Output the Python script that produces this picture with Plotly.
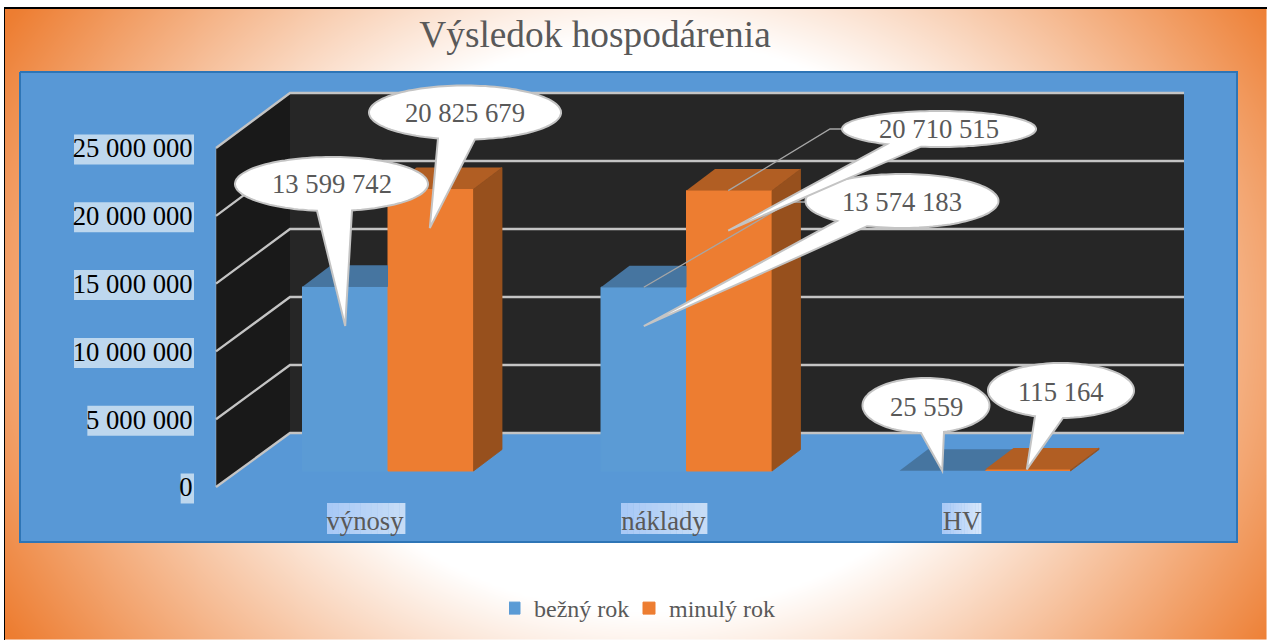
import math
import numpy as np
import plotly.graph_objects as go

# ---------- data ----------
categories = ["výnosy", "náklady", "HV"]
bezny_rok = [13599742, 13574183, 25559]
minuly_rok = [20825679, 20710515, 115164]
series_names = ["bežný rok", "minulý rok"]
tick_values = [0, 5000000, 10000000, 15000000, 20000000, 25000000]
tick_labels = ["0", "5 000 000", "10 000 000", "15 000 000", "20 000 000", "25 000 000"]
title_text = "Výsledok hospodárenia"

# ---------- style ----------
W, H = 1267, 640
FONT = "Liberation Serif"
BLUE, ORANGE = "#5B9BD5", "#ED7D31"
BLUE_TOP, ORANGE_TOP, ORANGE_SIDE = "#4675A0", "#B15E23", "#97501D"
PANEL, PANEL_EDGE = "#5898D6", "#2E75B6"
GRID = "#C4C4C4"
TXT = "#595959"
FS = 26.67

# scale of the bar plane (pixels)
PX_PER_CAT = 298.5
C0_PX = 388.0
PX_PER_V = 13.54e-6
Y0_PX = 471.0
BAR_W = 85.5 / PX_PER_CAT
DEPTH_C = 28.5 / PX_PER_CAT
DEPTH_V = 21.5 / PX_PER_V
# left front wall edge scale
Y3_0 = 487.0
Y3_K = 13.56e-6
# back wall scale
YB_0 = 433.0
YB_K = 13.6e-6
WALL_L, WALL_B, WALL_R = 216, 290, 1184


def bx(cat, s):
    """pixel centre of bar s in category cat"""
    return C0_PX + PX_PER_CAT * (cat + (s - 0.5) * BAR_W) - s


def by(v):
    return Y0_PX - PX_PER_V * v


fig = go.Figure()


def deco(xs, ys, fill=None, line=None, width=0):
    fig.add_trace(go.Scatter(
        x=xs, y=ys, mode="lines", fill="toself" if fill else None,
        fillcolor=fill, line=dict(color=line or "rgba(0,0,0,0)", width=width),
        hoverinfo="skip", showlegend=False, xaxis="x", yaxis="y"))


def rect(x0, y0, x1, y1, fill):
    deco([x0, x1, x1, x0, x0], [y0, y0, y1, y1, y0], fill=fill)


# ---------- background gradient ----------
gx = np.linspace(5, W, 256)
gy = np.linspace(9, H, 128)
u = (gx - 646) / 641
v = (gy - 325) / 316
z = np.clip(np.sqrt((1.664 * u[None, :]) ** 2 + (1.024 * v[:, None]) ** 2) - 0.93, 0, 1)
fig.add_trace(go.Heatmap(x=gx, y=gy, z=z, zmin=0, zmax=1, zsmooth="best", showscale=False,
                         colorscale=[[0, "#FFFFFF"], [1, ORANGE]], hoverinfo="skip",
                         xaxis="x", yaxis="y"))
rect(0, 0, W, 7, "#FFFFFF")
rect(0, 0, 4, H, "#FFFFFF")
rect(4, 7, W, 9, "#000000")
rect(4, 7, 5, H, "#000000")

# ---------- panel ----------
deco([20, 1237, 1237, 20, 20], [72, 72, 542, 542, 72], fill=PANEL, line=PANEL_EDGE, width=2)

# ---------- walls and gridlines ----------
yf = lambda val: Y3_0 - Y3_K * val
yb = lambda val: YB_0 - YB_K * val
top = tick_values[-1]
deco([WALL_L, WALL_B, WALL_B, WALL_L, WALL_L], [yf(0), yb(0), yb(top), yf(top), yf(0)], fill="#191919")
deco([WALL_B, WALL_R, WALL_R, WALL_B, WALL_B], [yb(0), yb(0), yb(top), yb(top), yb(0)], fill="#262626")
for val in tick_values:
    deco([WALL_L, WALL_B, WALL_R], [yf(val), yb(val), yb(val)], line=GRID, width=2.3)

# ---------- highlight behind the axis labels ----------
for lab, val in zip(tick_labels, tick_values):
    w = sum(6.67 if ch == " " else 13.33 for ch in lab)
    rect(194 - w, yf(val) - 13.5, 194, yf(val) + 16.5, "#BDD7EE")


def lerp_hex(a, b, t):
    ca = [int(a[i:i + 2], 16) for i in (1, 3, 5)]
    cb = [int(b[i:i + 2], 16) for i in (1, 3, 5)]
    return "#%02X%02X%02X" % tuple(round(p + (q - p) * t) for p, q in zip(ca, cb))


for cx_px, w_px, c_end in zip([366, 664, 961.5], [78, 86, 39], ["#C6DCF6", "#C6DCF6", "#D6E6FB"]):
    n = 14
    for i in range(n):
        x0 = cx_px - w_px / 2 + w_px * i / n
        rect(x0, 503, x0 + w_px / n + 0.4, 534, lerp_hex("#A8C9F6", c_end, i / (n - 1)))

# ---------- bars ----------
cats = list(range(len(categories)))
fig.add_trace(go.Bar(x=cats, y=bezny_rok, name=series_names[0],
                     marker=dict(color=BLUE, line=dict(color=BLUE, width=[1, 1, 0])),
                     xaxis="x2", yaxis="y2", hoverinfo="skip"))
fig.add_trace(go.Bar(x=cats, y=minuly_rok, name=series_names[1],
                     marker=dict(color=ORANGE, line=dict(color=ORANGE, width=[1, 1, 0])),
                     xaxis="x2", yaxis="y2", hoverinfo="skip"))


def face(xs, ys, color, lw=0):
    fig.add_trace(go.Scatter(x=xs, y=ys, mode="lines", fill="toself", fillcolor=color,
                             line=dict(width=lw, color=color), showlegend=False, hoverinfo="skip",
                             xaxis="x2", yaxis="y2"))


for c, vb, vo in zip(cats, bezny_rok, minuly_rok):
    # blue top, hidden behind the orange front where that is taller
    l, r = c - BAR_W, c
    if vo >= vb + DEPTH_V:
        face([l, r, r, l + DEPTH_C, l], [vb, vb, vb + DEPTH_V, vb + DEPTH_V, vb], BLUE_TOP)
    else:
        face([l, r, r + DEPTH_C, l + DEPTH_C, l], [vb, vb, vb + DEPTH_V, vb + DEPTH_V, vb], BLUE_TOP)
    # orange side and top
    l, r = c, c + BAR_W
    face([r, r + DEPTH_C, r + DEPTH_C, r, r], [0, DEPTH_V, vo + DEPTH_V, vo, 0], ORANGE_SIDE, lw=0.8)
    face([l, r, r + DEPTH_C, l + DEPTH_C, l], [vo, vo, vo + DEPTH_V, vo + DEPTH_V, vo], ORANGE_TOP)

# left front wall edge carries the value axis
fig.add_trace(go.Scatter(x=[(WALL_L - C0_PX) / PX_PER_CAT] * 2, y=[tick_values[0], tick_values[-1]], mode="lines",
                         line=dict(color="rgba(191,191,191,0.45)", width=1), showlegend=False,
                         hoverinfo="skip", xaxis="x2", yaxis="y3"))

# ---------- callouts ----------
shapes = []
annots = []


def leader(points):
    path = "M " + " L ".join(f"{a:.1f} {b:.1f}" for a, b in points)
    shapes.append(dict(type="path", path=path, xref="x", yref="y", layer="above",
                       line=dict(color="#A6A6A6", width=1.3)))


def callout(label, cx, cy, rx, ry, b1, b2, tip, tx=None, ty=None):
    t1 = math.acos(max(-1, min(1, (b1 - cx) / rx)))
    t2 = math.acos(max(-1, min(1, (b2 - cx) / rx)))
    pts = [(cx + rx * math.cos(t), cy + ry * math.sin(t))
           for t in np.linspace(t1, t2 + 2 * math.pi, 120)]
    pts.append(tip)
    path = "M " + " L ".join(f"{a:.1f} {b:.1f}" for a, b in pts) + " Z"
    shapes.append(dict(type="path", path=path, xref="x", yref="y", layer="above",
                       fillcolor="#FFFFFF", line=dict(color=GRID, width=2)))
    annots.append(dict(text=label, x=tx or cx, y=ty or cy, xref="x", yref="y", showarrow=False,
                       font=dict(family=FONT, size=FS, color=TXT)))


fmt = lambda n: f"{n:,}".replace(",", " ")
leader([(bx(1, 1), by(minuly_rok[1])), (830, 129), (842, 129)])
leader([(bx(1, 0), by(bezny_rok[1])), (790, 202), (806, 202)])
callout(fmt(bezny_rok[1]), 902, 201, 96.5, 27, 837, 867, (bx(1, 0), by(bezny_rok[1]) + 39), ty=202)
callout(fmt(minuly_rok[1]), 939, 129, 97, 18, 887, 921, (bx(1, 1), by(minuly_rok[1]) + 40))
callout(fmt(bezny_rok[0]), 331.5, 184, 96.5, 27, 317, 352, (bx(0, 0), by(bezny_rok[0]) + 39))
callout(fmt(minuly_rok[0]), 465, 112.5, 96, 27, 438, 475, (bx(0, 1), by(minuly_rok[0]) + 39))
callout(fmt(bezny_rok[2]), 926, 405.5, 63.5, 27.5, 921, 944, (bx(2, 0), by(bezny_rok[2])), ty=407)
callout(fmt(minuly_rok[2]), 1061, 390.5, 73, 27.5, 1035, 1063, (bx(2, 1), by(minuly_rok[2])), ty=392)

# ---------- layout ----------
fig.update_layout(
    width=W, height=H, autosize=False,
    margin=dict(l=0, r=0, t=0, b=0, pad=0),
    paper_bgcolor="#FFFFFF", plot_bgcolor="rgba(0,0,0,0)",
    barmode="group", bargap=1 - 2 * BAR_W, bargroupgap=0,
    title=dict(text=title_text, x=595 / W, xanchor="center", y=1 - 34 / H, yanchor="middle",
               font=dict(family=FONT, size=37.33, color=TXT)),
    showlegend=True,
    legend=dict(orientation="h", x=509 / W, xanchor="left", y=1 - 608.5 / H, yanchor="middle",
                font=dict(family=FONT, size=24, color=TXT), bgcolor="rgba(0,0,0,0)",
                indentation=-15, entrywidth=105, entrywidthmode="pixels"),
    xaxis=dict(range=[0, W], domain=[0, 1], visible=False, fixedrange=True),
    yaxis=dict(range=[H, 0], domain=[0, 1], visible=False, fixedrange=True),
    xaxis2=dict(range=[(0 - C0_PX) / PX_PER_CAT, (W - C0_PX) / PX_PER_CAT], domain=[0, 1],
                anchor="free", position=1 - 502 / H, side="bottom",
                tickmode="array", tickvals=[c - 23 / PX_PER_CAT for c in cats], ticktext=categories,
                tickfont=dict(family=FONT, size=FS, color=TXT),
                showgrid=False, zeroline=False, showline=False, ticks="", fixedrange=True),
    yaxis2=dict(range=[(Y0_PX - H) / (PX_PER_V), Y0_PX / PX_PER_V], domain=[0, 1], anchor="x2",
                visible=False, fixedrange=True),
    yaxis3=dict(range=[(Y3_0 - H) / Y3_K, Y3_0 / Y3_K], overlaying="y2", anchor="free", position=WALL_L / W,
                side="left", tickmode="array", tickvals=tick_values, ticktext=tick_labels,
                tickfont=dict(family=FONT, size=FS, color="#000000"),
                ticks="outside", ticklen=18, tickcolor="rgba(0,0,0,0)", tickwidth=1,
                showgrid=False, zeroline=False, showline=False, fixedrange=True),
    shapes=shapes, annotations=annots,
)

fig.write_html("out.html", config={"displayModeBar": False},
               post_script="document.body.style.margin='0';document.body.style.overflow='hidden';")
